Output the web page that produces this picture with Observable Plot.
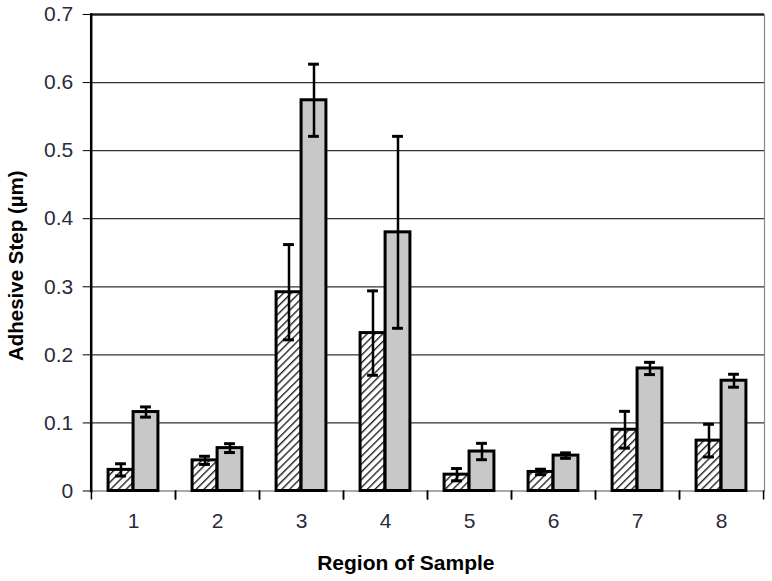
<!DOCTYPE html>
<html><head><meta charset="utf-8">
<script src="https://cdn.jsdelivr.net/npm/d3@7"></script>
<script src="https://cdn.jsdelivr.net/npm/@observablehq/plot@0.6"></script>
<style>body{margin:0;background:#fff} #chart svg{display:block}</style>
</head><body>
<svg width="0" height="0" style="position:absolute">
<defs><pattern id="hatch" patternUnits="userSpaceOnUse" width="5.5" height="5.5" patternTransform="rotate(45)">
<rect width="5.5" height="5.5" fill="#fff"/><line x1="0.7" y1="0" x2="0.7" y2="5.5" stroke="#111" stroke-width="1.3"/></pattern></defs></svg>
<div id="chart"></div>
<script>
const regions = ["1", "2", "3", "4", "5", "6", "7", "8"];
const hatchedValues = [0.031, 0.045, 0.292, 0.232, 0.024, 0.028, 0.090, 0.074];
const hatchedErr    = [0.009, 0.006, 0.070, 0.062, 0.009, 0.004, 0.027, 0.024];
const grayValues    = [0.116, 0.063, 0.574, 0.380, 0.058, 0.052, 0.180, 0.162];
const grayErr       = [0.0075, 0.0065, 0.053, 0.141, 0.012, 0.004, 0.009, 0.0095];
const yTicks = [0, 0.1, 0.2, 0.3, 0.4, 0.5, 0.6, 0.7];
const yTitle = "Adhesive Step (µm)";
const xTitle = "Region of Sample";

const hatched = regions.map((r, i) => ({region: r, value: hatchedValues[i], err: hatchedErr[i]}));
const gray = regions.map((r, i) => ({region: r, value: grayValues[i], err: grayErr[i]}));

const W = 772, H = 581, ml = 90.7, mr = 8, mt = 14, mb = 90.5;
const step = (W - ml - mr) / regions.length;
const barW = 25, capW = 11, off = barW / 2, padSide = step / 2 - barW;

function errMarks(data, sign) {
  const d = sign * off;
  const capL = step / 2 + d - capW / 2, capR = step / 2 - d - capW / 2;
  return [
    Plot.ruleX(data, {x: "region", y1: v => v.value - v.err, y2: v => v.value + v.err, dx: d, stroke: "#000", strokeWidth: 2.5}),
    Plot.tickY(data, {x: "region", y: v => v.value + v.err, insetLeft: capL, insetRight: capR, stroke: "#000", strokeWidth: 3}),
    Plot.tickY(data, {x: "region", y: v => v.value - v.err, insetLeft: capL, insetRight: capR, stroke: "#000", strokeWidth: 3})
  ];
}

const chart = Plot.plot({
  width: W, height: H,
  marginLeft: ml, marginRight: mr, marginTop: mt, marginBottom: mb,
  style: {fontFamily: "'Liberation Sans', Arial, sans-serif", fontSize: "21px", color: "#000", background: "#fff"},
  x: {domain: regions, padding: 0, axis: null},
  y: {domain: [0, 0.7], axis: null},
  marks: [
    Plot.ruleY(yTicks.filter(t => t > 0 && t < 0.7), {stroke: "#333", strokeWidth: 1.2}),
    Plot.frame({anchor: "right", stroke: "#888", strokeWidth: 1.2}),
    Plot.ruleY([0.7], {stroke: "#222", strokeWidth: 2.5}),
    Plot.ruleY([0], {stroke: "#555", strokeWidth: 1.2}),
    Plot.barY(hatched, {x: "region", y: "value", fill: "url(#hatch)", stroke: "#000", strokeWidth: 3, insetLeft: padSide, insetRight: step / 2}),
    Plot.barY(gray, {x: "region", y: "value", fill: "#c8c8c8", stroke: "#000", strokeWidth: 3, insetLeft: step / 2, insetRight: padSide}),
    ...errMarks(hatched, -1),
    ...errMarks(gray, 1),
    Plot.frame({anchor: "left", stroke: "#000", strokeWidth: 2.5}),
    Plot.axisY(yTicks, {tickSize: 8, tickPadding: 10, tickFormat: t => String(t), label: null, fill: "#2a2a3a", stroke: "#000", fontSize: 21}),
    Plot.axisX({tickSize: 0, tickPadding: 22, label: null, fill: "#2a2a3a", fontSize: 21}),
    Plot.axisX({tickSize: 9, tickFormat: () => "", dx: -step / 2, label: null, stroke: "#000", strokeWidth: 1.5}),
    Plot.axisX({tickSize: 9, tickFormat: () => "", dx: step / 2, label: null, stroke: "#000", strokeWidth: 1.5}),
    Plot.text([yTitle], {frameAnchor: "left", textAnchor: "middle", lineAnchor: "middle", dx: -75, dy: 13, rotate: -90, fontWeight: "bold", fontSize: 20.5, fill: "#000"}),
    Plot.text([xTitle], {frameAnchor: "bottom", textAnchor: "middle", lineAnchor: "middle", dy: 72, dx: -22, fontWeight: "bold", fontSize: 21, fill: "#000"})
  ]
});
document.getElementById("chart").appendChild(chart);
</script>
</body></html>
